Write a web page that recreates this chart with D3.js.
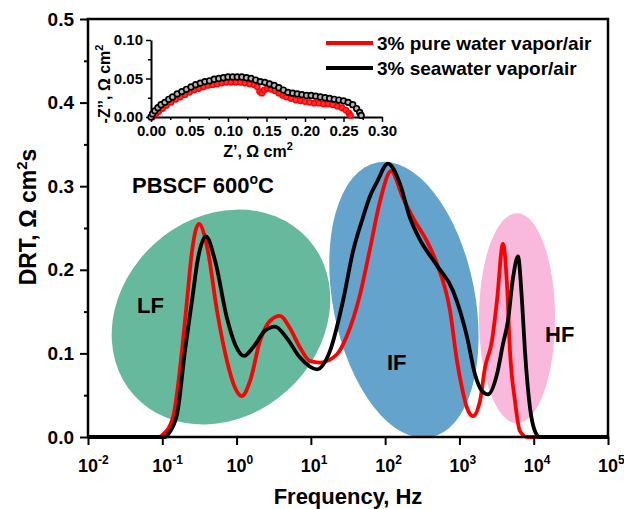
<!DOCTYPE html>
<html>
<head>
<meta charset="utf-8">
<script src="https://cdn.jsdelivr.net/npm/d3@7"></script>
<style>
    body { margin: 0; background: #fff; }
    svg { display: block; font-family: "Liberation Sans", Arial, sans-serif; font-weight: bold; }
</style>
</head>
<body>
<svg id="chart" width="624" height="509"></svg>
<script>
// DRT, 3% pure water vapor/air
var freqPure = [0.01, 0.09, 0.102, 0.139, 0.184, 0.215, 0.251, 0.312, 0.412, 0.545,
    0.743, 0.953, 1.18, 1.52, 2.07, 2.82, 3.84, 5.24, 7.14, 9.73,
    13.3, 22.5, 30.6, 45.8, 62.5, 85.3, 120, 174, 237, 366,
    499, 747, 927, 1081, 1264, 1522, 1891, 2208, 2742, 3201,
    3855, 4365, 4790, 5598, 6530, 8110, 1e5];
var drtPure = [0, 0, 0.003, 0.023, 0.103, 0.163, 0.222, 0.255, 0.222, 0.151,
    0.091, 0.059, 0.049, 0.067, 0.115, 0.139, 0.145, 0.130, 0.107, 0.091,
    0.089, 0.099, 0.121, 0.170, 0.225, 0.282, 0.318, 0.286, 0.262, 0.234,
    0.207, 0.151, 0.091, 0.059, 0.035, 0.025, 0.043, 0.083, 0.115, 0.163,
    0.231, 0.183, 0.103, 0.043, 0.007, 0, 0];

// DRT, 3% seawater vapor/air
var freqSea = [0.01, 0.11, 0.119, 0.158, 0.202, 0.251, 0.303, 0.387, 0.513, 0.743,
    0.953, 1.26, 1.66, 2.41, 3.29, 4.77, 7.14, 12.1, 18.1, 27.1,
    36.9, 50, 62.5, 77.6, 109, 158, 216, 294, 499, 819,
    1264, 1619, 2013, 2422, 3201, 3855, 4500, 5260, 6138, 6950,
    7620, 8910, 10400, 12100, 1e5];
var drtSea = [0, 0, 0.003, 0.027, 0.103, 0.163, 0.214, 0.240, 0.211, 0.142,
    0.111, 0.097, 0.107, 0.127, 0.132, 0.118, 0.095, 0.081, 0.103, 0.163,
    0.222, 0.262, 0.288, 0.305, 0.327, 0.303, 0.262, 0.236, 0.205, 0.175,
    0.120, 0.075, 0.055, 0.051, 0.075, 0.111, 0.139, 0.190, 0.216, 0.163,
    0.103, 0.035, 0.007, 0, 0];

// inset Nyquist plot
var zRePure = [0.002, 0.006, 0.010, 0.015, 0.020, 0.026, 0.032, 0.038, 0.044, 0.050,
    0.056, 0.062, 0.068, 0.074, 0.080, 0.086, 0.092, 0.098, 0.104, 0.110,
    0.116, 0.122, 0.128, 0.134, 0.138, 0.141, 0.144, 0.147, 0.151, 0.156,
    0.161, 0.166, 0.171, 0.176, 0.182, 0.188, 0.194, 0.200, 0.206, 0.212,
    0.218, 0.224, 0.230, 0.236, 0.242, 0.248, 0.253, 0.257, 0.259];
var zImPure = [0.000, 0.004, 0.007, 0.011, 0.015, 0.019, 0.023, 0.026, 0.029, 0.032,
    0.035, 0.037, 0.039, 0.041, 0.042, 0.043, 0.044, 0.045, 0.045, 0.045,
    0.045, 0.044, 0.043, 0.042, 0.039, 0.033, 0.031, 0.035, 0.037, 0.036,
    0.034, 0.031, 0.028, 0.026, 0.024, 0.022, 0.021, 0.020, 0.019, 0.018,
    0.018, 0.017, 0.017, 0.016, 0.014, 0.012, 0.009, 0.005, 0.002];
var zReSea = [0.000, 0.002, 0.005, 0.009, 0.013, 0.018, 0.023, 0.028, 0.034, 0.040,
    0.046, 0.052, 0.058, 0.064, 0.070, 0.076, 0.082, 0.088, 0.094, 0.100,
    0.106, 0.112, 0.118, 0.124, 0.130, 0.136, 0.142, 0.148, 0.154, 0.160,
    0.166, 0.172, 0.178, 0.184, 0.190, 0.196, 0.202, 0.208, 0.214, 0.220,
    0.226, 0.232, 0.238, 0.244, 0.250, 0.256, 0.262, 0.267, 0.271, 0.273];
var zImSea = [0.000, 0.004, 0.008, 0.012, 0.016, 0.019, 0.023, 0.026, 0.030, 0.033,
    0.036, 0.039, 0.042, 0.044, 0.046, 0.047, 0.049, 0.050, 0.051, 0.052,
    0.052, 0.052, 0.052, 0.051, 0.050, 0.048, 0.046, 0.045, 0.043, 0.041,
    0.038, 0.035, 0.032, 0.031, 0.030, 0.029, 0.028, 0.028, 0.027, 0.026,
    0.025, 0.024, 0.023, 0.022, 0.021, 0.019, 0.016, 0.011, 0.006, 0.002];

var xTickExp = [-2, -1, 0, 1, 2, 3, 4, 5];
var yTicks = [0, 0.1, 0.2, 0.3, 0.4, 0.5];
var insetXTicks = [0, 0.05, 0.10, 0.15, 0.20, 0.25, 0.30];
var insetYTicks = [0, 0.05, 0.10];
var seriesNames = ['3% pure water vapor/air', '3% seawater vapor/air'];

var svg = d3.select('#chart');
var x = d3.scaleLog().domain([1e-2, 1e5]).range([88, 608]);
var y = d3.scaleLinear().domain([0, 0.5]).range([437, 19]);

// coloured regions behind the curves
var regions = svg.append('g').attr('class', 'regions');
function region(f, v, rx, ry, angle, color) {
    regions.append('ellipse')
        .attr('transform', 'translate(' + x(f) + ',' + y(v) + ') rotate(' + angle + ')')
        .attr('rx', rx).attr('ry', ry)
        .attr('fill', color);
}
region(0.617, 0.1435, 117, 99, -42, '#66b99d');
region(179, 0.164, 71, 140, -11, '#63a3cc');
region(5960, 0.142, 38, 105, 0, '#f9b9dc');

var line = d3.line()
    .x(function (d) { return x(d[0]); })
    .y(function (d) { return y(d[1]); })
    .curve(d3.curveMonotoneX);

svg.append('path').datum(d3.zip(freqPure, drtPure))
    .attr('d', line).attr('fill', 'none')
    .attr('stroke', '#ff0000').attr('stroke-width', 3.8).attr('stroke-linejoin', 'round');
svg.append('path').datum(d3.zip(freqSea, drtSea))
    .attr('d', line).attr('fill', 'none')
    .attr('stroke', '#000').attr('stroke-width', 3.8).attr('stroke-linejoin', 'round');

// region labels
var notes = svg.append('g').attr('font-size', 22);
notes.append('text').attr('x', 137).attr('y', 313).text('LF');
notes.append('text').attr('x', 387).attr('y', 370).text('IF');
notes.append('text').attr('x', 545).attr('y', 342).text('HF');
var title = notes.append('text').attr('x', 132).attr('y', 193);
title.append('tspan').text('PBSCF 600');
title.append('tspan').attr('dy', -9).attr('font-size', 14).text('o');
title.append('tspan').attr('dy', 9).text('C');

// axes
var minorX = [];
for (var e = -2; e < 5; e++) {
    for (var m = 2; m < 10; m++) minorX.push(m * Math.pow(10, e));
}
var xAxis = svg.append('g').attr('transform', 'translate(0,437)');
xAxis.call(d3.axisBottom(x).tickValues(minorX).tickSize(4).tickFormat(''));
xAxis.call(d3.axisBottom(x).tickValues(xTickExp.map(function (k) { return Math.pow(10, k); })).tickSize(8).tickFormat(''));
xAxis.selectAll('.domain').remove();
xAxis.selectAll('line').attr('stroke-width', 2);

var yAxis = svg.append('g').attr('transform', 'translate(88,0)');
yAxis.call(d3.axisLeft(y).tickValues([0.05, 0.15, 0.25, 0.35, 0.45]).tickSize(4).tickFormat(''));
var yMajor = svg.append('g').attr('transform', 'translate(88,0)')
    .call(d3.axisLeft(y).tickValues(yTicks).tickSize(8).tickPadding(6).tickFormat(d3.format('.1f')));
svg.selectAll('.domain').remove();
yAxis.selectAll('line').attr('stroke-width', 2);
yMajor.selectAll('line').attr('stroke-width', 2);
yMajor.selectAll('text').attr('font-size', 19).attr('font-family', null).attr('fill', '#000');

svg.append('rect')
    .attr('x', x.range()[0]).attr('y', y.range()[1])
    .attr('width', x.range()[1] - x.range()[0]).attr('height', y.range()[0] - y.range()[1])
    .attr('fill', 'none').attr('stroke', '#000').attr('stroke-width', 2.5);

var xLabels = svg.append('g').attr('font-size', 18);
xTickExp.forEach(function (k) {
    var t = xLabels.append('text').attr('y', 472);
    t.append('tspan').text('10');
    t.append('tspan').attr('dy', -8).attr('font-size', 12).text(k);
    var w = t.node().getSubStringLength(0, 2);
    t.attr('x', x(Math.pow(10, k)) - w / 2);
});

svg.append('text').attr('x', 348).attr('y', 504)
    .attr('text-anchor', 'middle').attr('font-size', 22).text('Frequency, Hz');

var yTitle = svg.append('text')
    .attr('transform', 'translate(36,217) rotate(-90)')
    .attr('text-anchor', 'middle').attr('font-size', 23);
yTitle.append('tspan').text('DRT, \u03a9 cm');
yTitle.append('tspan').attr('dy', -9).attr('font-size', 15).text('2');
yTitle.append('tspan').attr('dy', 9).text('s');

// legend
var legend = svg.append('g').attr('font-size', 19);
[['#ff0000', 43], ['#000', 68]].forEach(function (row, i) {
    legend.append('line').attr('x1', 326).attr('x2', 373).attr('y1', row[1]).attr('y2', row[1])
        .attr('stroke', row[0]).attr('stroke-width', 4);
    legend.append('text').attr('x', 377).attr('y', row[1] + 7).text(seriesNames[i]);
});

// inset
var xi = d3.scaleLinear().domain([0, 0.30]).range([151, 382]);
var yi = d3.scaleLinear().domain([0, 0.10]).range([117, 40]);
var inset = svg.append('g').attr('class', 'inset');

var ixMinor = inset.append('g').attr('transform', 'translate(0,117)')
    .call(d3.axisBottom(xi).tickValues([0.025, 0.075, 0.125, 0.175, 0.225, 0.275]).tickSize(3).tickFormat(''));
var ixAxis = inset.append('g').attr('transform', 'translate(0,117)')
    .call(d3.axisBottom(xi).tickValues(insetXTicks).tickSize(5).tickSizeOuter(0).tickPadding(3).tickFormat(d3.format('.2f')));
var iyMinor = inset.append('g').attr('transform', 'translate(151,0)')
    .call(d3.axisLeft(yi).tickValues([0.025, 0.075]).tickSize(3).tickFormat(''));
var iyAxis = inset.append('g').attr('transform', 'translate(151,0)')
    .call(d3.axisLeft(yi).tickValues(insetYTicks).tickSize(5).tickSizeOuter(0).tickPadding(3).tickFormat(d3.format('.2f')));
ixMinor.select('.domain').remove();
iyMinor.select('.domain').remove();
inset.selectAll('.domain').attr('stroke-width', 2);
inset.selectAll('line').attr('stroke-width', 1.5);
inset.selectAll('text').attr('font-size', 15).attr('font-family', null).attr('fill', '#000');

inset.selectAll('circle.pure').data(d3.zip(zRePure, zImPure)).enter().append('circle')
    .attr('class', 'pure')
    .attr('cx', function (d) { return xi(d[0]); })
    .attr('cy', function (d) { return yi(d[1]); })
    .attr('r', 2.7).attr('fill', '#ff3030').attr('stroke', '#ff0000').attr('stroke-width', 1.4);
inset.selectAll('circle.sea').data(d3.zip(zReSea, zImSea)).enter().append('circle')
    .attr('class', 'sea')
    .attr('cx', function (d) { return xi(d[0]); })
    .attr('cy', function (d) { return yi(d[1]); })
    .attr('r', 2.8).attr('fill', '#b4b4b4').attr('stroke', '#000').attr('stroke-width', 1.7);

var ixTitle = inset.append('text').attr('x', 258).attr('y', 157)
    .attr('text-anchor', 'middle').attr('font-size', 16);
ixTitle.append('tspan').text('Z\u2019, \u03a9 cm');
ixTitle.append('tspan').attr('dy', -7).attr('font-size', 11).text('2');

var iyTitle = inset.append('text').attr('transform', 'translate(110,84) rotate(-90)')
    .attr('text-anchor', 'middle').attr('font-size', 16);
iyTitle.append('tspan').text('-Z\u2019\u2019, \u03a9 cm');
iyTitle.append('tspan').attr('dy', -7).attr('font-size', 11).text('2');
</script>
</body>
</html>
